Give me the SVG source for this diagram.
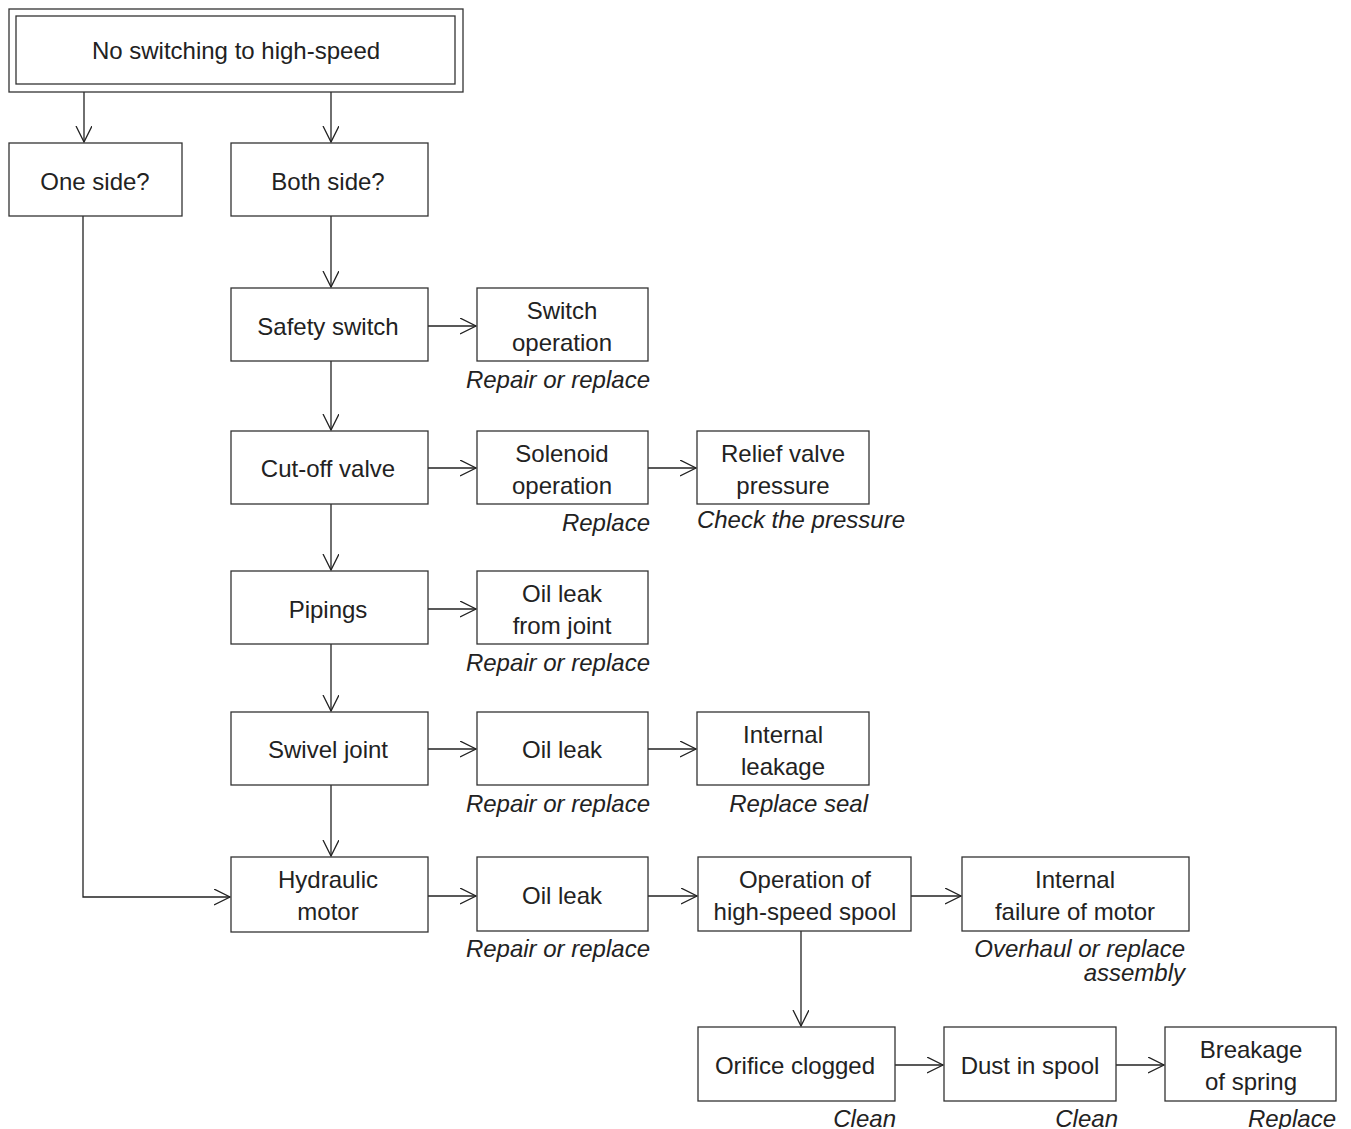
<svg xmlns="http://www.w3.org/2000/svg" width="1351" height="1129" viewBox="0 0 1351 1129">
<defs>
<marker id="arr" viewBox="0 0 20 20" refX="16" refY="8" markerWidth="20" markerHeight="20" markerUnits="userSpaceOnUse" orient="auto">
<path d="M0,0 L16,8 L0,16" fill="none" stroke="#222" stroke-width="1.3"/>
</marker>
<style>
.b{fill:#fff;stroke:#333;stroke-width:1.3}
.t{font-family:"Liberation Sans",Arial,sans-serif;font-size:24px;fill:#222;text-anchor:middle}
.n{font-family:"Liberation Sans",Arial,sans-serif;font-size:24px;font-style:italic;fill:#222;text-anchor:end}
.c{fill:none;stroke:#222;stroke-width:1.3}
</style>
</defs>
<rect width="1351" height="1129" fill="#fff"/>
<g id="connectors">
<path class="c" d="M84,92 V142" marker-end="url(#arr)"/>
<path class="c" d="M331,92 V142" marker-end="url(#arr)"/>
<path class="c" d="M83,216 V897 H230" marker-end="url(#arr)"/>
<path class="c" d="M331,216 V287" marker-end="url(#arr)"/>
<path class="c" d="M331,361 V430" marker-end="url(#arr)"/>
<path class="c" d="M331,504 V570" marker-end="url(#arr)"/>
<path class="c" d="M331,644 V711" marker-end="url(#arr)"/>
<path class="c" d="M331,785 V856" marker-end="url(#arr)"/>
<path class="c" d="M428,326 H476" marker-end="url(#arr)"/>
<path class="c" d="M428,468 H476" marker-end="url(#arr)"/>
<path class="c" d="M648,468 H696" marker-end="url(#arr)"/>
<path class="c" d="M428,609 H476" marker-end="url(#arr)"/>
<path class="c" d="M428,749 H476" marker-end="url(#arr)"/>
<path class="c" d="M648,749 H696" marker-end="url(#arr)"/>
<path class="c" d="M428,896 H476" marker-end="url(#arr)"/>
<path class="c" d="M648,896 H697" marker-end="url(#arr)"/>
<path class="c" d="M911,896 H961" marker-end="url(#arr)"/>
<path class="c" d="M801,931 V1026" marker-end="url(#arr)"/>
<path class="c" d="M895,1065 H943" marker-end="url(#arr)"/>
<path class="c" d="M1116,1065 H1164" marker-end="url(#arr)"/>
</g>
<g id="top">
<rect class="b" x="9" y="9" width="454" height="83"/>
<rect class="b" x="16" y="16" width="439" height="68"/>
<text class="t" x="236" y="59">No switching to high-speed</text>
</g>
<g id="one"><rect class="b" x="9" y="143" width="173" height="73"/><text class="t" x="95" y="190">One side?</text></g>
<g id="both"><rect class="b" x="231" y="143" width="197" height="73"/><text class="t" x="328" y="190">Both side?</text></g>
<g id="safety"><rect class="b" x="231" y="288" width="197" height="73"/><text class="t" x="328" y="335">Safety switch</text></g>
<g id="switchop"><rect class="b" x="477" y="288" width="171" height="73"/><text class="t" x="562" y="319">Switch</text><text class="t" x="562" y="351">operation</text><text class="n" x="650" y="388">Repair or replace</text></g>
<g id="cutoff"><rect class="b" x="231" y="431" width="197" height="73"/><text class="t" x="328" y="477">Cut-off valve</text></g>
<g id="solenoid"><rect class="b" x="477" y="431" width="171" height="73"/><text class="t" x="562" y="462">Solenoid</text><text class="t" x="562" y="494">operation</text><text class="n" x="650" y="531">Replace</text></g>
<g id="relief"><rect class="b" x="697" y="431" width="172" height="73"/><text class="t" x="783" y="462">Relief valve</text><text class="t" x="783" y="494">pressure</text><text class="n" x="905" y="528">Check the pressure</text></g>
<g id="pipings"><rect class="b" x="231" y="571" width="197" height="73"/><text class="t" x="328" y="618">Pipings</text></g>
<g id="oiljoint"><rect class="b" x="477" y="571" width="171" height="73"/><text class="t" x="562" y="602">Oil leak</text><text class="t" x="562" y="634">from joint</text><text class="n" x="650" y="671">Repair or replace</text></g>
<g id="swivel"><rect class="b" x="231" y="712" width="197" height="73"/><text class="t" x="328" y="758">Swivel joint</text></g>
<g id="oilleak1"><rect class="b" x="477" y="712" width="171" height="73"/><text class="t" x="562" y="758">Oil leak</text><text class="n" x="650" y="812">Repair or replace</text></g>
<g id="internal"><rect class="b" x="697" y="712" width="172" height="73"/><text class="t" x="783" y="743">Internal</text><text class="t" x="783" y="775">leakage</text><text class="n" x="868" y="812">Replace seal</text></g>
<g id="motor"><rect class="b" x="231" y="857" width="197" height="75"/><text class="t" x="328" y="888">Hydraulic</text><text class="t" x="328" y="920">motor</text></g>
<g id="oilleak2"><rect class="b" x="477" y="857" width="171" height="74"/><text class="t" x="562" y="904">Oil leak</text><text class="n" x="650" y="957">Repair or replace</text></g>
<g id="spool"><rect class="b" x="698" y="857" width="213" height="74"/><text class="t" x="805" y="888">Operation of</text><text class="t" x="805" y="920">high-speed spool</text></g>
<g id="failure"><rect class="b" x="962" y="857" width="227" height="74"/><text class="t" x="1075" y="888">Internal</text><text class="t" x="1075" y="920">failure of motor</text><text class="n" x="1185" y="957">Overhaul or replace</text><text class="n" x="1185" y="981">assembly</text></g>
<g id="orifice"><rect class="b" x="698" y="1027" width="197" height="74"/><text class="t" x="795" y="1074">Orifice clogged</text><text class="n" x="896" y="1127">Clean</text></g>
<g id="dust"><rect class="b" x="944" y="1027" width="172" height="74"/><text class="t" x="1030" y="1074">Dust in spool</text><text class="n" x="1118" y="1127">Clean</text></g>
<g id="spring"><rect class="b" x="1165" y="1027" width="171" height="74"/><text class="t" x="1251" y="1058">Breakage</text><text class="t" x="1251" y="1090">of spring</text><text class="n" x="1336" y="1127">Replace</text></g>
</svg>
